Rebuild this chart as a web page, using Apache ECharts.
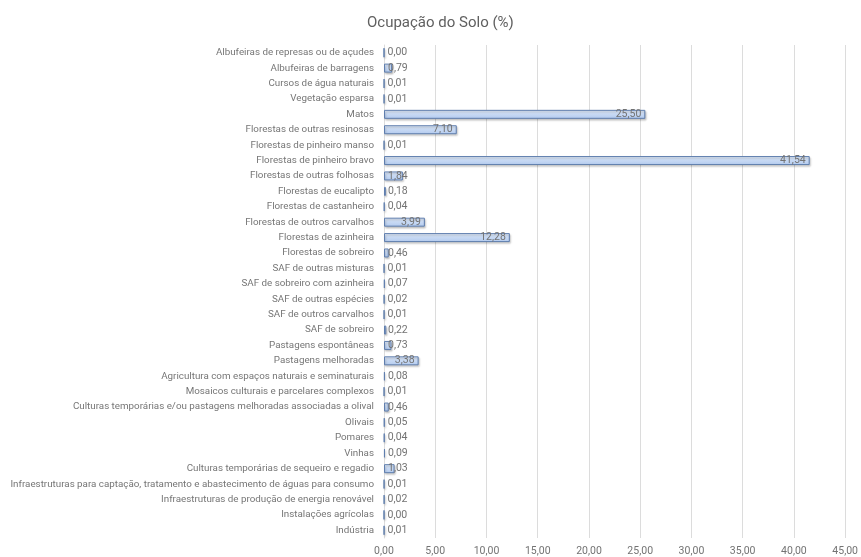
<!DOCTYPE html>
<html>
<head>
<meta charset="utf-8">
<script src="https://cdn.jsdelivr.net/npm/echarts@6/dist/echarts.min.js"></script>
<style>
  html, body { margin: 0; padding: 0; background: #fff; }
  #chart { width: 861px; height: 557px; }
</style>
</head>
<body>
<div id="chart"></div>
<script>
// categorias (de cima para baixo)
const categories = [
  'Albufeiras de represas ou de açudes',
  'Albufeiras de barragens',
  'Cursos de água naturais',
  'Vegetação esparsa',
  'Matos',
  'Florestas de outras resinosas',
  'Florestas de pinheiro manso',
  'Florestas de pinheiro bravo',
  'Florestas de outras folhosas',
  'Florestas de eucalipto',
  'Florestas de castanheiro',
  'Florestas de outros carvalhos',
  'Florestas de azinheira',
  'Florestas de sobreiro',
  'SAF de outras misturas',
  'SAF de sobreiro com azinheira',
  'SAF de outras espécies',
  'SAF de outros carvalhos',
  'SAF de sobreiro',
  'Pastagens espontâneas',
  'Pastagens melhoradas',
  'Agricultura com espaços naturais e seminaturais',
  'Mosaicos culturais e parcelares complexos',
  'Culturas temporárias e/ou pastagens melhoradas associadas a olival',
  'Olivais',
  'Pomares',
  'Vinhas',
  'Culturas temporárias de sequeiro e regadio',
  'Infraestruturas para captação, tratamento e abastecimento de águas para consumo',
  'Infraestruturas de produção de energia renovável',
  'Instalações agrícolas',
  'Indústria'
]

// ocupação do solo (%)
const values = [
  0.00, 0.79, 0.01, 0.01, 25.50, 7.10, 0.01, 41.54, 1.84, 0.18, 0.04, 3.99, 12.28, 0.46,
  0.01, 0.07, 0.02, 0.01, 0.22, 0.73, 3.38, 0.08, 0.01, 0.46, 0.05, 0.04, 0.09, 1.03,
  0.01, 0.02, 0.00, 0.01
]

const xTicks = [0, 5, 10, 15, 20, 25, 30, 35, 40, 45]

const fmt = v => Number(v).toFixed(2).replace('.', ',')
const font = 'Roboto, "Liberation Sans", sans-serif'

const chart = echarts.init(document.getElementById('chart'))

const option = {
  animation: false,
  title: {
    text: 'Ocupação do Solo (%)',
    left: 362,
    top: 11,
    textStyle: {
      color: '#606060',
      fontSize: 15,
      fontWeight: 'normal',
      fontFamily: font
    }
  },
  grid: {
    left: 384,
    right: 14,
    top: 45,
    bottom: 18
  },
  xAxis: {
    type: 'value',
    min: xTicks[0],
    max: xTicks[xTicks.length - 1],
    interval: xTicks[1] - xTicks[0],
    axisLine: { show: false },
    axisTick: { show: false },
    splitLine: {
      show: true,
      lineStyle: { color: '#dcdcdc', width: 1 }
    },
    axisLabel: {
      color: '#737373',
      fontSize: 10.5,
      fontFamily: font,
      margin: 8,
      formatter: fmt
    }
  },
  yAxis: {
    type: 'category',
    inverse: true,
    data: categories,
    axisLine: { show: true, lineStyle: { color: '#dcdcdc' } },
    axisTick: { show: false },
    axisLabel: {
      color: '#767676',
      fontSize: 9.8,
      fontFamily: font,
      margin: 10,
      interval: 0
    }
  },
  series: [
    {
      type: 'bar',
      barWidth: 9,
      data: values.map(v => ({
        value: v,
        label: { position: v < 2 ? 'insideLeft' : 'insideRight' }
      })),
      itemStyle: {
        color: new echarts.graphic.LinearGradient(0, 0, 0, 1, [
          { offset: 0, color: '#e3ecf9' },
          { offset: 0.5, color: '#c7d9f4' },
          { offset: 1, color: '#b2caee' }
        ]),
        borderColor: '#5f7eae',
        borderWidth: 1,
        shadowColor: 'rgba(0,0,0,0.22)',
        shadowBlur: 2,
        shadowOffsetX: 1,
        shadowOffsetY: 1.5
      },
      label: {
        show: true,
        distance: 4,
        color: '#737373',
        fontSize: 10.5,
        fontFamily: font,
        formatter: p => fmt(p.value)
      }
    }
  ]
}

chart.setOption(option)
</script>
</body>
</html>
